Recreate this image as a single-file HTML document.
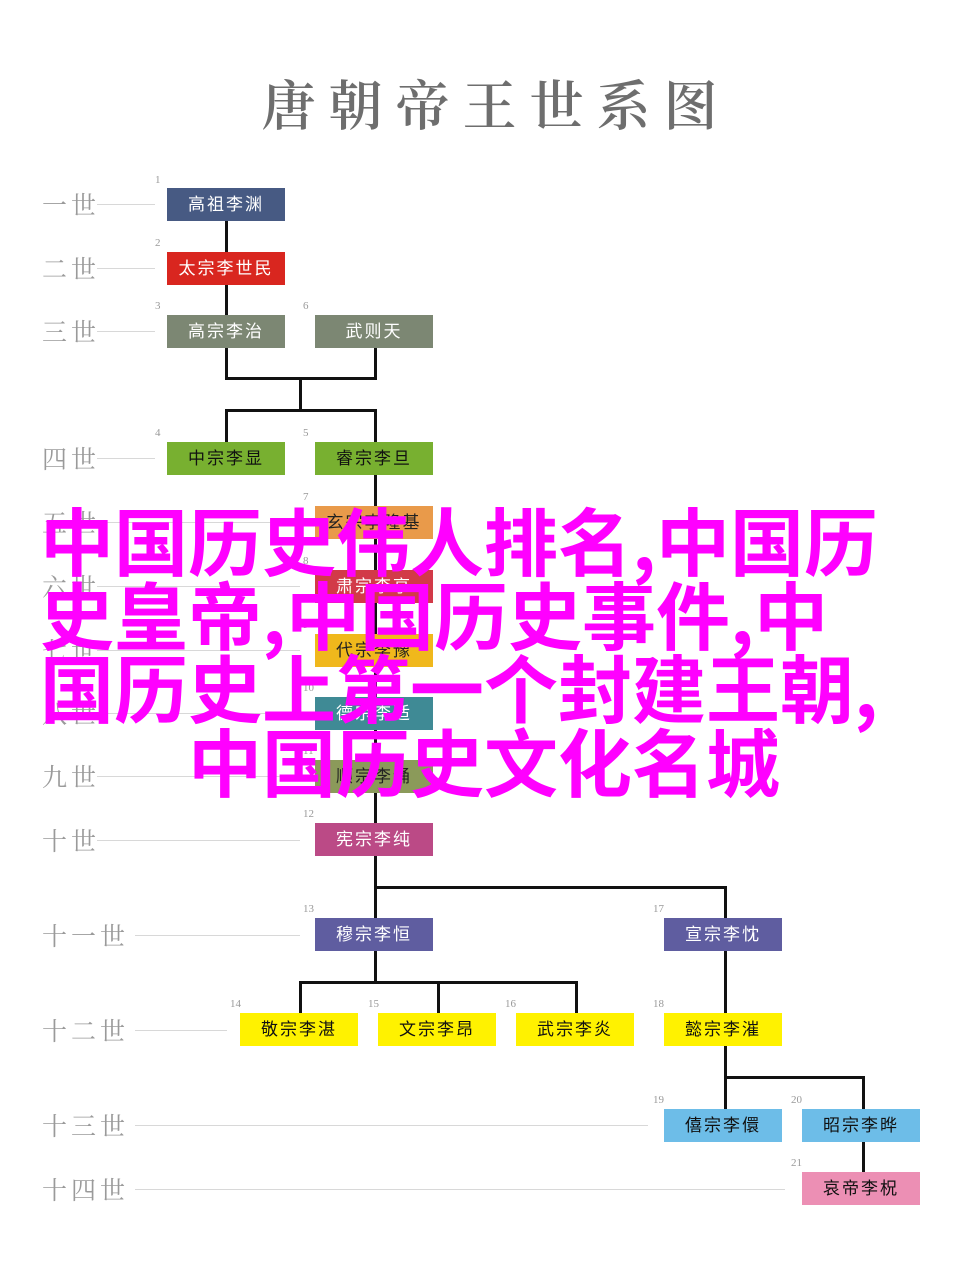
<!DOCTYPE html>
<html><head><meta charset="utf-8"><style>
body{margin:0;width:960px;height:1279px;background:#fff;position:relative;overflow:hidden;font-family:"Liberation Sans","Noto Sans CJK SC",sans-serif}
.t{position:absolute;left:0;width:960px;top:64px;text-align:center;font-family:"Noto Serif CJK SC",serif;font-size:54px;font-weight:600;color:#6e6e6e;letter-spacing:13px;padding-left:32px;box-sizing:border-box}
.g{position:absolute;left:42px;font-size:25px;color:#9a9a9a;letter-spacing:4px;font-family:"Noto Serif CJK SC",serif;line-height:30px}
.hl{position:absolute;height:1px;background:#d8d8d8}
.b{position:absolute;width:118px;height:33px;line-height:33px;text-align:center;font-size:17px;letter-spacing:2px;color:#fff}
.n{position:absolute;font-size:11px;color:#999;font-family:"Liberation Serif",serif}
.v{position:absolute;width:3px;background:#111}
.h{position:absolute;height:3px;background:#111}
.m{position:absolute;font-family:"Noto Sans CJK SC",sans-serif;font-weight:700;font-size:74px;color:#ff00ff;line-height:74px;white-space:nowrap}
</style></head><body>
<div class="t">唐朝帝王世系图</div>

<div class="g" style="top:189px">一世</div><div class="hl" style="left:97px;width:58px;top:204px"></div>
<div class="g" style="top:253px">二世</div><div class="hl" style="left:97px;width:58px;top:268px"></div>
<div class="g" style="top:316px">三世</div><div class="hl" style="left:97px;width:58px;top:331px"></div>
<div class="g" style="top:443px">四世</div><div class="hl" style="left:97px;width:58px;top:458px"></div>
<div class="g" style="top:507px">五世</div><div class="hl" style="left:97px;width:203px;top:522px"></div>
<div class="g" style="top:571px">六世</div><div class="hl" style="left:97px;width:203px;top:586px"></div>
<div class="g" style="top:635px">七世</div><div class="hl" style="left:97px;width:203px;top:650px"></div>
<div class="g" style="top:698px">八世</div><div class="hl" style="left:97px;width:203px;top:713px"></div>
<div class="g" style="top:761px">九世</div><div class="hl" style="left:97px;width:203px;top:776px"></div>
<div class="g" style="top:825px">十世</div><div class="hl" style="left:97px;width:203px;top:840px"></div>
<div class="g" style="top:920px">十一世</div><div class="hl" style="left:135px;width:165px;top:935px"></div>
<div class="g" style="top:1015px">十二世</div><div class="hl" style="left:135px;width:92px;top:1030px"></div>
<div class="g" style="top:1110px">十三世</div><div class="hl" style="left:135px;width:513px;top:1125px"></div>
<div class="g" style="top:1174px">十四世</div><div class="hl" style="left:135px;width:650px;top:1189px"></div>

<div class="v" style="left:225px;top:220px;height:158px"></div>
<div class="v" style="left:374px;top:348px;height:30px"></div>
<div class="h" style="left:225px;top:377px;width:152px"></div>
<div class="v" style="left:299px;top:377px;height:34px"></div>
<div class="h" style="left:225px;top:409px;width:152px"></div>
<div class="v" style="left:225px;top:409px;height:33px"></div>
<div class="v" style="left:374px;top:409px;height:478px"></div>
<div class="h" style="left:374px;top:886px;width:353px"></div>
<div class="v" style="left:724px;top:886px;height:240px"></div>
<div class="v" style="left:374px;top:887px;height:95px"></div>
<div class="h" style="left:299px;top:981px;width:279px"></div>
<div class="v" style="left:299px;top:981px;height:32px"></div>
<div class="v" style="left:437px;top:981px;height:32px"></div>
<div class="v" style="left:575px;top:981px;height:32px"></div>
<div class="h" style="left:724px;top:1076px;width:141px"></div>
<div class="v" style="left:862px;top:1076px;height:110px"></div>

<div class="n" style="left:155px;top:174px">1</div><div class="b" style="left:167px;top:188px;background:#475a83">高祖李渊</div>
<div class="n" style="left:155px;top:237px">2</div><div class="b" style="left:167px;top:252px;background:#d9261f">太宗李世民</div>
<div class="n" style="left:155px;top:300px">3</div><div class="b" style="left:167px;top:315px;background:#7c8773">高宗李治</div>
<div class="n" style="left:303px;top:300px">6</div><div class="b" style="left:315px;top:315px;background:#7c8773">武则天</div>
<div class="n" style="left:155px;top:427px">4</div><div class="b" style="left:167px;top:442px;background:#78b030;color:#111">中宗李显</div>
<div class="n" style="left:303px;top:427px">5</div><div class="b" style="left:315px;top:442px;background:#78b030;color:#111">睿宗李旦</div>
<div class="n" style="left:303px;top:491px">7</div><div class="b" style="left:315px;top:506px;background:#e99a4a;color:#222">玄宗李隆基</div>
<div class="n" style="left:303px;top:555px">8</div><div class="b" style="left:315px;top:570px;background:#d23a48">肃宗李亨</div>
<div class="n" style="left:303px;top:619px">9</div><div class="b" style="left:315px;top:634px;background:#f0b81c;color:#222">代宗李豫</div>
<div class="n" style="left:303px;top:682px">10</div><div class="b" style="left:315px;top:697px;background:#3f8a95">德宗李适</div>
<div class="n" style="left:303px;top:745px">11</div><div class="b" style="left:315px;top:760px;background:#8b9a5a;color:#222">顺宗李诵</div>
<div class="n" style="left:303px;top:808px">12</div><div class="b" style="left:315px;top:823px;background:#bb4a86">宪宗李纯</div>
<div class="n" style="left:303px;top:903px">13</div><div class="b" style="left:315px;top:918px;background:#5f5da0">穆宗李恒</div>
<div class="n" style="left:653px;top:903px">17</div><div class="b" style="left:664px;top:918px;background:#5f5da0">宣宗李忱</div>
<div class="n" style="left:230px;top:998px">14</div><div class="b" style="left:240px;top:1013px;background:#fff200;color:#111">敬宗李湛</div>
<div class="n" style="left:368px;top:998px">15</div><div class="b" style="left:378px;top:1013px;background:#fff200;color:#111">文宗李昂</div>
<div class="n" style="left:505px;top:998px">16</div><div class="b" style="left:516px;top:1013px;background:#fff200;color:#111">武宗李炎</div>
<div class="n" style="left:653px;top:998px">18</div><div class="b" style="left:664px;top:1013px;background:#fff200;color:#111">懿宗李漼</div>
<div class="n" style="left:653px;top:1094px">19</div><div class="b" style="left:664px;top:1109px;background:#6dbde8;color:#111">僖宗李儇</div>
<div class="n" style="left:791px;top:1094px">20</div><div class="b" style="left:802px;top:1109px;background:#6dbde8;color:#111">昭宗李晔</div>
<div class="n" style="left:791px;top:1157px">21</div><div class="b" style="left:802px;top:1172px;background:#ec8fb4;color:#111">哀帝李柷</div>

<div class="m" style="left:40px;top:502px">中国历史伟人排名,中国历</div>
<div class="m" style="left:40px;top:576px">史皇帝,中国历史事件,中</div>
<div class="m" style="left:40px;top:649px">国历史上第一个封建王朝,</div>
<div class="m" style="left:188px;top:723px">中国历史文化名城</div>
</body></html>
